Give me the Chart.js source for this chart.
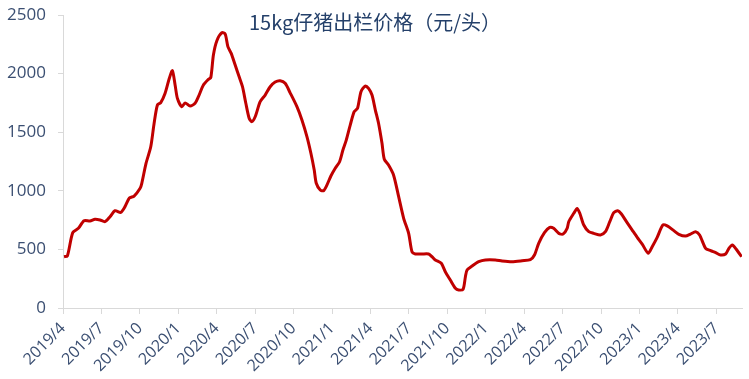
<!DOCTYPE html>
<html>
<head>
<meta charset="utf-8">
<script src="https://cdn.jsdelivr.net/npm/chart.js@4.4.1/dist/chart.umd.min.js"></script>
<style>
  body { margin: 0; background: #fff; }
  #wrap { width: 749px; height: 379px; }
</style>
</head>
<body>
<div id="wrap"><canvas id="pigletChart" width="749" height="379"></canvas></div>
<script>
// 月份偏移（从 2019/4 起算）与价格（元/头）
const months = [
    0.08, 0.34, 0.76, 1.20, 1.64, 2.11, 2.50, 2.89, 3.28, 3.67, 4.06, 4.51, 4.84, 5.18, 5.55,
    6.02, 6.15, 6.48, 6.85, 7.11, 7.37, 7.63, 7.97, 8.30, 8.54, 8.75, 8.93, 9.27, 9.53, 9.92,
    10.31, 10.57, 10.96, 11.35, 11.54, 11.74, 12.01, 12.40, 12.66, 12.87, 13.13, 13.44, 13.75,
    14.01, 14.27, 14.53, 14.74, 15.00, 15.39, 15.78, 16.17, 16.56, 16.95, 17.34, 17.73, 18.26,
    18.65, 19.04, 19.35, 19.61, 19.77, 20.08, 20.34, 20.60, 20.91, 21.25, 21.59, 21.85, 22.11,
    22.42, 22.73, 22.99, 23.26, 23.59, 23.85, 24.12, 24.38, 24.63, 24.90, 25.08, 25.41, 25.80,
    26.20, 26.59, 26.98, 27.24, 27.50, 28.02, 28.54, 28.80, 29.06, 29.53, 29.84, 30.23, 30.63,
    30.88, 31.23, 31.41, 31.54, 31.93, 32.45, 32.97, 33.75, 34.27, 35.05, 35.84, 36.48, 36.80,
    37.13, 37.58, 37.99, 38.30, 38.70, 39.04, 39.35, 39.48, 39.87, 40.13, 40.34, 40.65, 41.04,
    41.43, 41.95, 42.34, 42.68, 42.99, 43.30, 43.59, 43.98, 44.43, 44.82, 45.21, 45.68, 45.99,
    46.38, 46.82, 47.16, 47.68, 48.07, 48.59, 48.98, 49.38, 49.69, 50.16, 50.55, 50.94, 51.33,
    51.72, 51.98, 52.24, 52.55, 52.97
];
const prices = [
    438, 444, 643, 680, 745, 742, 757, 751, 737, 779, 830, 816, 865, 938, 955,
    1021, 1064, 1234, 1376, 1575, 1732, 1752, 1832, 1960, 2025, 1903, 1789, 1718, 1750, 1723,
    1747, 1803, 1903, 1951, 1968, 2159, 2281, 2349, 2338, 2230, 2173, 2073, 1973,
    1888, 1747, 1619, 1590, 1632, 1760, 1817, 1888, 1928, 1939, 1917, 1836, 1718,
    1604, 1462, 1320, 1177, 1064, 1007, 1001, 1049, 1126, 1192, 1248, 1348, 1433,
    1561, 1675, 1704, 1846, 1894, 1874, 1817, 1689, 1576, 1405, 1269, 1220, 1135,
    950, 765, 637, 480, 461, 461, 461, 438, 410, 381, 310, 239, 168,
    154, 160, 267, 324, 358, 395, 410, 410, 401, 395, 403, 412, 452,
    552, 643, 688, 680, 637, 631, 680, 737, 808, 850, 808, 708, 651,
    637, 623, 651, 737, 813, 830, 802, 737, 665, 603, 545, 467, 523,
    603, 708, 700, 660, 629, 614, 631, 651, 623, 509, 489, 472, 452,
    461, 509, 538, 501, 438
];
const tickLabels = [
    '2019/4', '2019/7', '2019/10', '2020/1', '2020/4', '2020/7', '2020/10',
    '2021/1', '2021/4', '2021/7', '2021/10', '2022/1', '2022/4', '2022/7',
    '2022/10', '2023/1', '2023/4', '2023/7'
];
const yTicks = [0, 500, 1000, 1500, 2000, 2500];
const titleText = '15kg仔猪出栏价格（元/头）';

const textColor = '#3b4f72';
const axisColor = '#d9d9d9';

// 标题画在绘图区内部上方
const innerTitle = {
    id: 'innerTitle',
    afterDraw(chart) {
        const ctx = chart.ctx;
        ctx.save();
        ctx.font = '20px "Noto Sans CJK SC", "Open Sans", sans-serif';
        ctx.fillStyle = '#24406a';
        ctx.textAlign = 'center';
        ctx.textBaseline = 'middle';
        ctx.fillText(titleText, 375, 22);
        ctx.restore();
    }
};

const points = months.map((m, i) => ({ x: m, y: prices[i] }));

new Chart(document.getElementById('pigletChart'), {
    type: 'line',
    data: {
        datasets: [{
            data: points,
            borderColor: '#c00000',
            borderWidth: 3,
            pointRadius: 0,
            tension: 0.25,
            fill: false
        }]
    },
    options: {
        responsive: false,
        animation: false,
        layout: { padding: { top: 15, right: 7, left: 0, bottom: 0 } },
        plugins: { legend: { display: false }, tooltip: { enabled: false } },
        scales: {
            x: {
                type: 'linear',
                min: 0,
                max: 53,
                afterBuildTicks: (scale) => { scale.ticks = tickLabels.map((_, i) => ({ value: i * 3 })); },
                afterFit: (scale) => { scale.height = 71; },
                grid: { drawOnChartArea: false, drawTicks: true, tickLength: 6, color: axisColor },
                border: { color: axisColor, width: 1 },
                ticks: {
                    autoSkip: false,
                    minRotation: 45,
                    maxRotation: 45,
                    padding: 5,
                    color: textColor,
                    font: { family: '"Open Sans", sans-serif', size: 16 },
                    callback: (v) => tickLabels[Math.round(v / 3)]
                }
            },
            y: {
                min: 0,
                max: 2500,
                afterBuildTicks: (scale) => { scale.ticks = yTicks.map(v => ({ value: v })); },
                afterFit: (scale) => {
                    scale.width = 63;
                    scale.paddingTop = 0;
                    scale.paddingBottom = 0;
                },
                grid: { drawOnChartArea: false, drawTicks: true, tickLength: 5, color: axisColor },
                border: { color: axisColor, width: 1 },
                ticks: {
                    padding: 12,
                    color: textColor,
                    font: { family: '"Open Sans", sans-serif', size: 17 },
                    callback: (v) => String(v)
                }
            }
        }
    },
    plugins: [innerTitle]
});
</script>
</body>
</html>
